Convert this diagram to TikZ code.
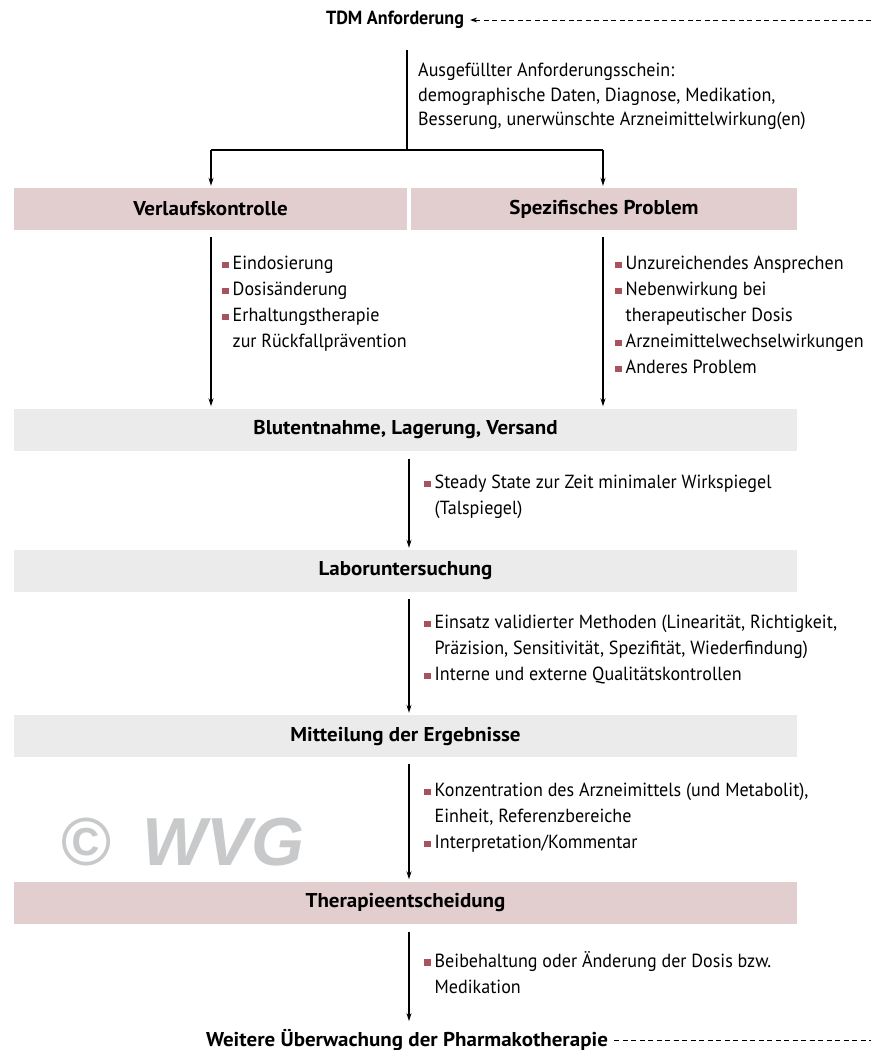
\documentclass[tikz,border=0pt]{standalone}
\usepackage{fontspec}
\setmainfont{PT Sans}[FakeStretch=0.95, BoldFeatures={FakeStretch=1.05}]
\newfontfamily\tdmfont{PT Sans}[FakeStretch=0.95]
\newfontfamily\wmfont{Liberation Sans}
\usetikzlibrary{arrows.meta}
\definecolor{pinkbox}{HTML}{E2CDCF}
\definecolor{graybox}{HTML}{EBEBEB}
\definecolor{bulc}{HTML}{A6535E}
\definecolor{wmgray}{HTML}{C8C9CA}
\newcommand\basefont{\fontsize{19}{26}\selectfont}
\newcommand\titlefont{\fontsize{20}{26}\selectfont\bfseries}
\newcommand\bul{\textcolor{bulc}{\rule[1.5pt]{6.5pt}{6.5pt}}\hspace{4pt}}
\newcommand\bulsp{\hspace{10.5pt}}
\tikzset{
  pbox/.style={fill=pinkbox, inner sep=0pt, minimum height=42pt, font=\titlefont},
  gbox/.style={fill=graybox, inner sep=0pt, minimum height=42pt, minimum width=783pt, font=\titlefont},
  title/.style={inner sep=0pt, font=\titlefont},
  txt/.style={anchor=north west, inner sep=0pt, align=left, font=\basefont},
  arr/.style={line width=1.3pt, -{Stealth[length=8pt,width=5pt]}},
  plain/.style={line width=1.3pt},
  dashline/.style={line width=0.9pt, dash pattern=on 5pt off 3.5pt},
}
\begin{document}
\begin{tikzpicture}[x=1pt,y=-1pt]
\useasboundingbox (0,0) rectangle (871,1050);
% watermark
\node[inner sep=0pt, text=wmgray, font=\wmfont\fontsize{68}{68}\selectfont\bfseries] (wm) at (183,842) {©\hspace{0.45em}\textit{WVG}};
% top
\node[inner sep=0pt, font=\tdmfont\fontsize{19}{26}\selectfont\bfseries] (tdm) at (395,20) {TDM Anforderung};
\coordinate (tdmr) at (871,20);
\draw[dashline, -{Stealth[length=7pt,width=5pt]}] (tdmr) -- ([xshift=6pt]tdm.east);
\coordinate (t1) at (407,50);
\coordinate (t2) at (407,150);
\coordinate (jl) at (211,150);
\coordinate (jr) at (603,150);
\draw[plain] (t1) -- (t2);
\draw[plain] (jl) -- (jr);
\node[txt, font=\fontsize{19}{24.5}\selectfont] (req) at (418,63) {Ausgefüllter Anforderungsschein:\\demographische Daten, Diagnose, Medikation,\\Besserung, unerwünschte Arzneimittelwirkung(en)};
% boxes
\node[pbox, minimum width=393pt] (vk) at (210.5,209) {Verlaufskontrolle};
\node[pbox, minimum width=386pt] (sp) at (604,209) {Spezifisches Problem};
\node[gbox] (bl) at (405.5,429.5) {Blutentnahme, Lagerung, Versand};
\node[gbox] (lab) at (405.5,571) {Laboruntersuchung};
\node[gbox] (mit) at (405.5,736) {Mitteilung der Ergebnisse};
\node[gbox, fill=pinkbox] (th) at (405.5,902.5) {Therapieentscheidung};
\node[title] (wu) at (407,1040) {Weitere Überwachung der Pharmakotherapie};
\coordinate (wur) at (871,1040);
\draw[dashline] ([xshift=6pt]wu.east) -- (wur);
% arrows
\draw[arr] (jl) -- ([yshift=2pt]vk.north -| jl);
\draw[arr] (jr) -- ([yshift=2pt]sp.north -| jr);
\draw[arr] ([yshift=-7pt]vk.south -| jl) -- ([yshift=2pt]bl.north -| jl);
\draw[arr] ([yshift=-7pt]sp.south -| jr) -- ([yshift=2pt]bl.north -| jr);
\coordinate (mx) at (409,0);
\draw[arr] ([yshift=-8pt]bl.south -| mx) -- ([yshift=2pt]lab.north -| mx);
\draw[arr] ([yshift=-7pt]lab.south -| mx) -- ([yshift=2pt]mit.north -| mx);
\draw[arr] ([yshift=-7pt]mit.south -| mx) -- ([yshift=2pt]th.north -| mx);
\draw[arr] ([yshift=-8pt]th.south -| mx) -- ([yshift=8pt]wu.north -| mx);
% texts
\node[txt] (l1) at (222,256) {\bul Eindosierung\\\bul Dosisänderung\\\bul Erhaltungstherapie\\\bulsp zur Rückfallprävention};
\node[txt] (r1) at (615,256) {\bul Unzureichendes Ansprechen\\\bul Nebenwirkung bei\\\bulsp therapeutischer Dosis\\\bul Arzneimittelwechselwirkungen\\\bul Anderes Problem};
\node[txt] (b1) at (424,475) {\bul Steady State zur Zeit minimaler Wirkspiegel\\\bulsp (Talspiegel)};
\node[txt] (lb1) at (424,615) {\bul Einsatz validierter Methoden (Linearität, Richtigkeit,\\\bulsp Präzision, Sensitivität, Spezifität, Wiederfindung)\\\bul Interne und externe Qualitätskontrollen};
\node[txt] (m1) at (424,783) {\bul Konzentration des Arzneimittels (und Metabolit),\\\bulsp Einheit, Referenzbereiche\\\bul Interpretation/Kommentar};
\node[txt] (th1) at (424,951) {\bul Beibehaltung oder Änderung der Dosis bzw.\\\bulsp Medikation};
\end{tikzpicture}
\end{document}
